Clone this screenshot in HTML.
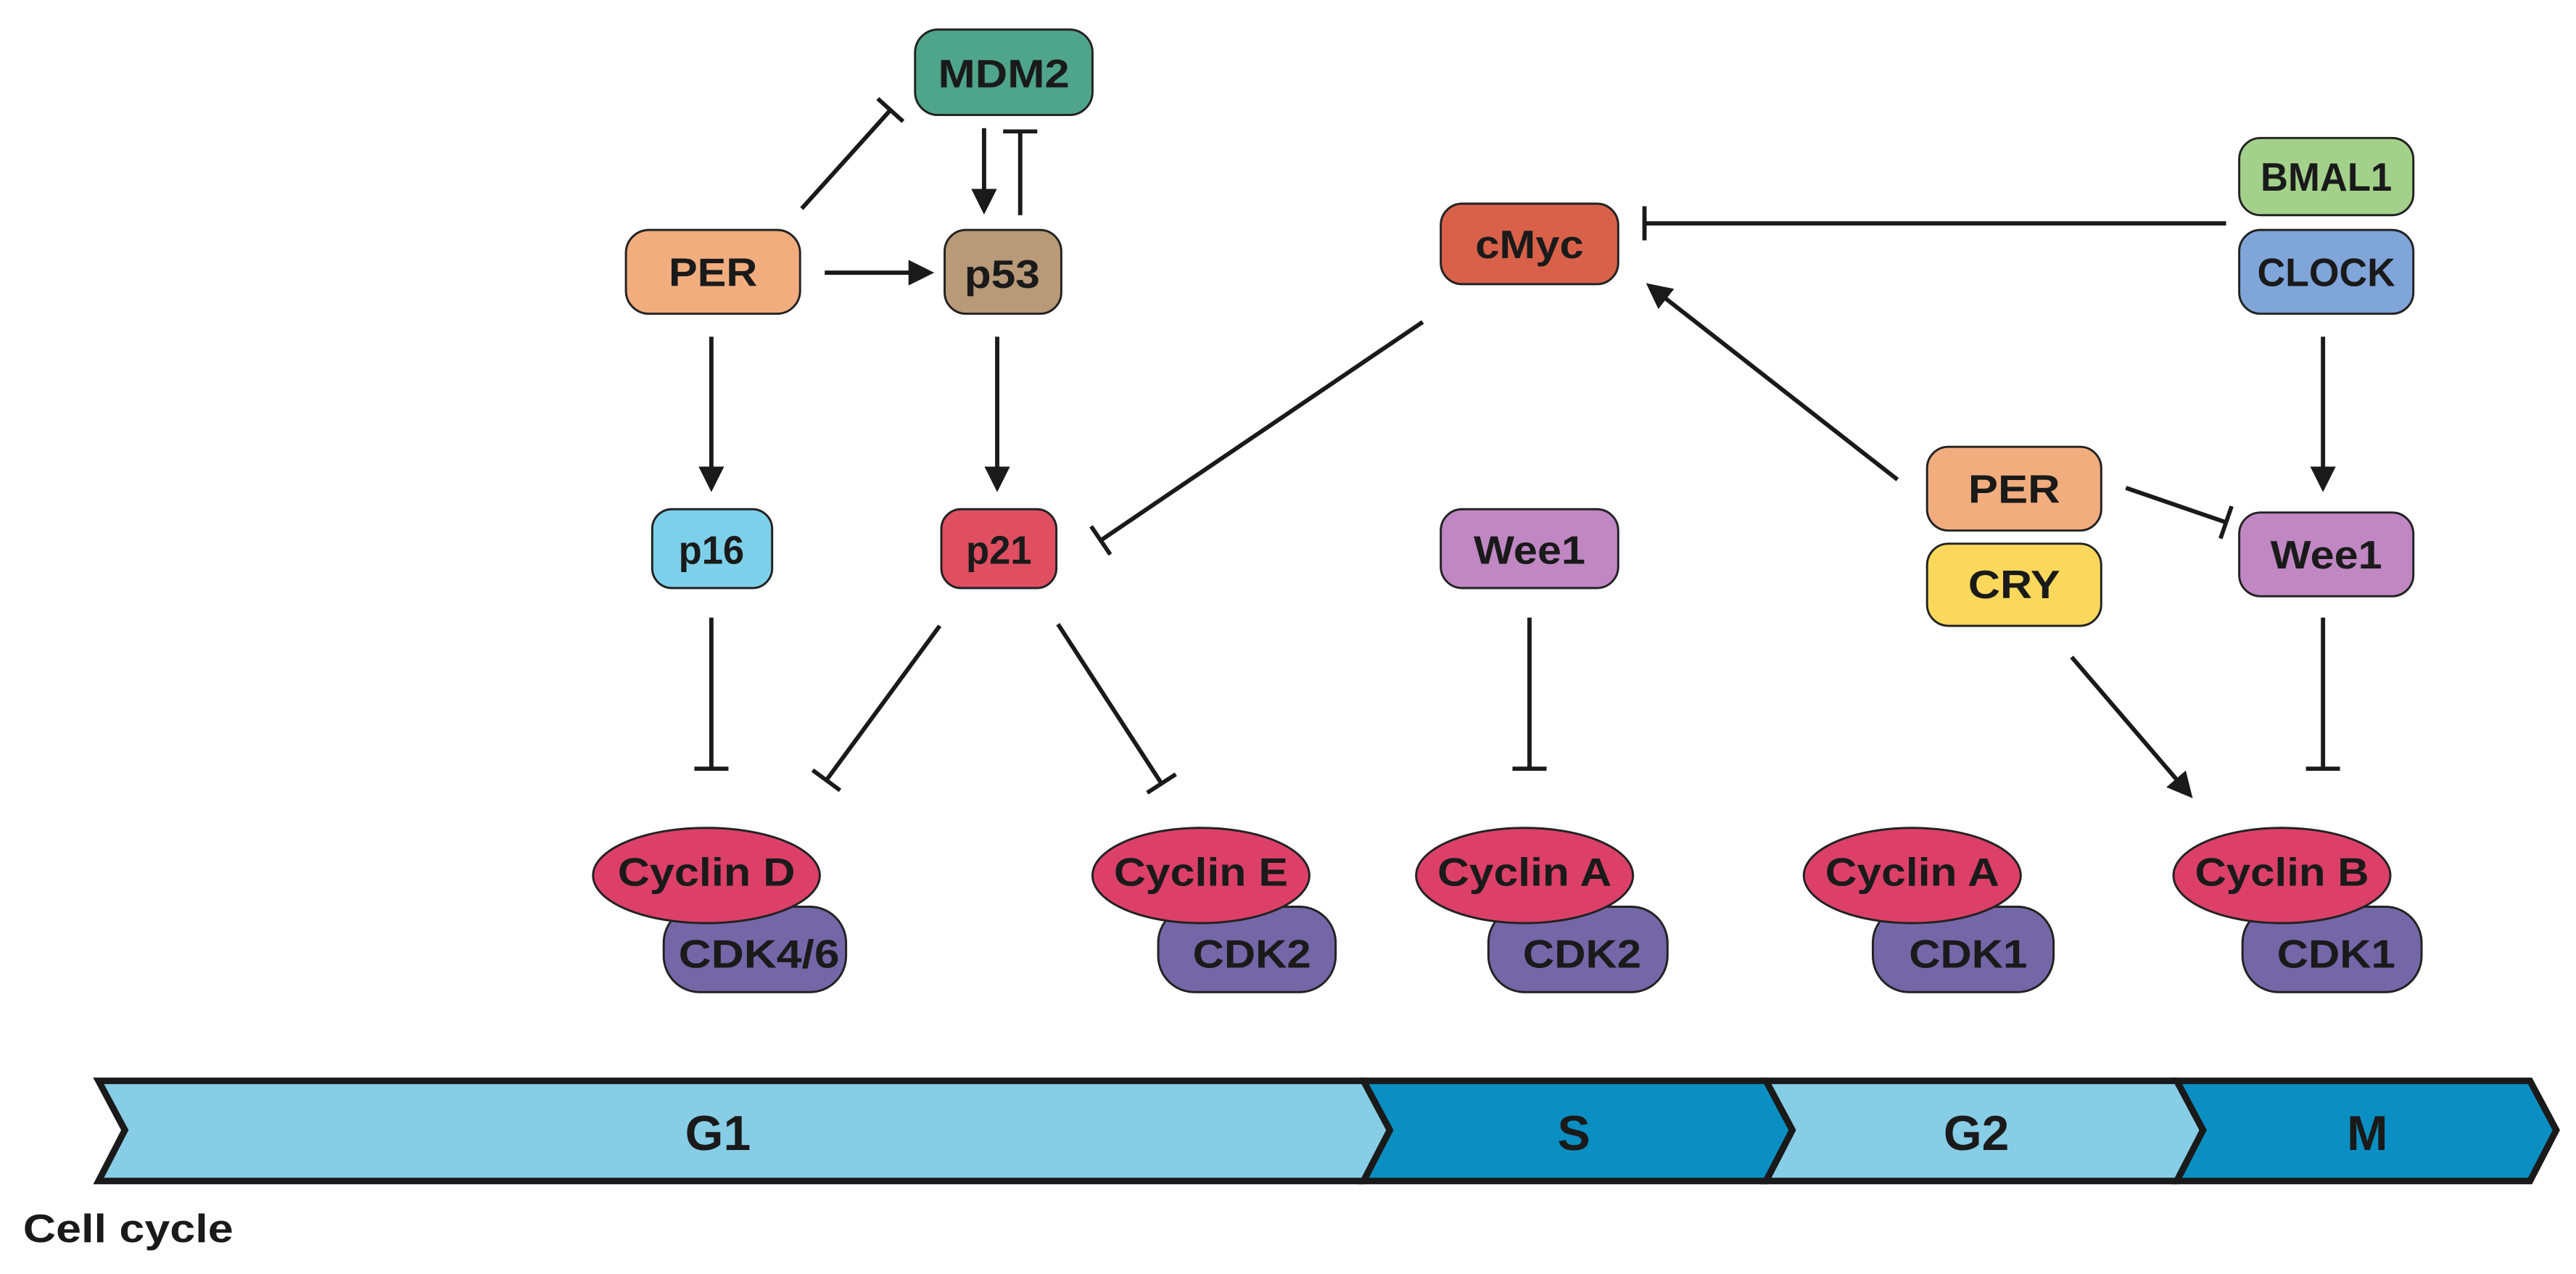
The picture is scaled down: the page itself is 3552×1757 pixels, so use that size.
<!DOCTYPE html>
<html><head><meta charset="utf-8"><style>
html,body{margin:0;padding:0;background:#fff;}
svg{display:block;}
text{font-family:"Liberation Sans",Arial,sans-serif;font-weight:bold;fill:#1a1a1a;text-anchor:middle;dominant-baseline:central;}
</style></head><body>
<svg width="3552" height="1757" viewBox="0 0 1568 775.6" preserveAspectRatio="none" xmlns="http://www.w3.org/2000/svg">
<defs>
<marker id="ar" markerWidth="6" markerHeight="6" refX="5" refY="3" orient="auto" markerUnits="strokeWidth">
<path d="M0,0 L6,3 L0,6 z" fill="#1a1a1a"/></marker>
<marker id="tb" markerWidth="1" markerHeight="8" refX="0.5" refY="4" orient="auto" markerUnits="strokeWidth">
<rect x="0" y="0" width="1" height="8" fill="#1a1a1a"/></marker>
</defs>
<g stroke="#1a1a1a" stroke-width="2.6" fill="none">
<line x1="488" y1="127" x2="542" y2="67" marker-end="url(#tb)"/>
<line x1="599" y1="78" x2="599" y2="128" marker-end="url(#ar)"/>
<line x1="621" y1="131" x2="621" y2="80" marker-end="url(#tb)"/>
<line x1="502" y1="166" x2="566" y2="166" marker-end="url(#ar)"/>
<line x1="433" y1="205" x2="433" y2="297" marker-end="url(#ar)"/>
<line x1="607" y1="205" x2="607" y2="297" marker-end="url(#ar)"/>
<line x1="433" y1="376" x2="433" y2="468" marker-end="url(#tb)"/>
<line x1="572" y1="381" x2="503" y2="475" marker-end="url(#tb)"/>
<line x1="644" y1="380" x2="707" y2="477" marker-end="url(#tb)"/>
<line x1="866" y1="196" x2="670" y2="329" marker-end="url(#tb)"/>
<line x1="1355" y1="136" x2="1001" y2="136" marker-end="url(#tb)"/>
<line x1="1414" y1="205" x2="1414" y2="297" marker-end="url(#ar)"/>
<line x1="1294" y1="297" x2="1355" y2="318" marker-end="url(#tb)"/>
<line x1="1155" y1="292" x2="1004" y2="174" marker-end="url(#ar)"/>
<line x1="1261" y1="400" x2="1333" y2="484" marker-end="url(#ar)"/>
<line x1="931" y1="376" x2="931" y2="468" marker-end="url(#tb)"/>
<line x1="1414" y1="376" x2="1414" y2="468" marker-end="url(#tb)"/>
</g>
<g stroke="#222" stroke-width="1.3">
<rect x="557" y="18" width="108" height="52" rx="14" fill="#4fa58a"/>
<rect x="381" y="140" width="106" height="51" rx="14" fill="#f2ad7e"/>
<rect x="575" y="140" width="71" height="51" rx="13" fill="#b89a78"/>
<rect x="397" y="310" width="73" height="48" rx="12" fill="#7dd0ea"/>
<rect x="573" y="310" width="70" height="48" rx="12" fill="#e04e62"/>
<rect x="877" y="124" width="108" height="49" rx="13" fill="#d9614a"/>
<rect x="1363" y="84" width="106" height="47" rx="13" fill="#a3d18b"/>
<rect x="1363" y="140" width="106" height="51" rx="13" fill="#7fa5d9"/>
<rect x="877" y="310" width="108" height="48" rx="13" fill="#c087c3"/>
<rect x="1363" y="312" width="106" height="51" rx="13" fill="#c087c3"/>
<rect x="1173" y="272" width="106" height="51" rx="13" fill="#f2ad7e"/>
<rect x="1173" y="331" width="106" height="50" rx="13" fill="#fbd85c"/>
<rect x="404" y="552" width="111" height="52" rx="22" fill="#7566a8"/>
<ellipse cx="430" cy="533" rx="69" ry="29" fill="#dc4068"/>
<rect x="705" y="552" width="108" height="52" rx="22" fill="#7566a8"/>
<ellipse cx="731" cy="533" rx="66" ry="29" fill="#dc4068"/>
<rect x="906" y="552" width="109" height="52" rx="22" fill="#7566a8"/>
<ellipse cx="928" cy="533" rx="66" ry="29" fill="#dc4068"/>
<rect x="1140" y="552" width="110" height="52" rx="22" fill="#7566a8"/>
<ellipse cx="1164" cy="533" rx="66" ry="29" fill="#dc4068"/>
<rect x="1365" y="552" width="109" height="52" rx="22" fill="#7566a8"/>
<ellipse cx="1389" cy="533" rx="66" ry="29" fill="#dc4068"/>
</g>
<g font-size="24">
<text x="611" y="45" textLength="80" lengthAdjust="spacingAndGlyphs">MDM2</text>
<text x="434" y="166" textLength="54" lengthAdjust="spacingAndGlyphs">PER</text>
<text x="610" y="167" textLength="46" lengthAdjust="spacingAndGlyphs">p53</text>
<text x="433" y="335" textLength="40" lengthAdjust="spacingAndGlyphs">p16</text>
<text x="608" y="335" textLength="40" lengthAdjust="spacingAndGlyphs">p21</text>
<text x="931" y="149" textLength="66" lengthAdjust="spacingAndGlyphs">cMyc</text>
<text x="1416" y="108" textLength="80" lengthAdjust="spacingAndGlyphs">BMAL1</text>
<text x="1416" y="166" textLength="84" lengthAdjust="spacingAndGlyphs">CLOCK</text>
<text x="931" y="335" textLength="68" lengthAdjust="spacingAndGlyphs">Wee1</text>
<text x="1416" y="338" textLength="68" lengthAdjust="spacingAndGlyphs">Wee1</text>
<text x="1226" y="298" textLength="56" lengthAdjust="spacingAndGlyphs">PER</text>
<text x="1226" y="356" textLength="56" lengthAdjust="spacingAndGlyphs">CRY</text>
<text x="430" y="531" textLength="108" lengthAdjust="spacingAndGlyphs">Cyclin D</text>
<text x="462" y="581" textLength="98" lengthAdjust="spacingAndGlyphs">CDK4/6</text>
<text x="731" y="531" textLength="106" lengthAdjust="spacingAndGlyphs">Cyclin E</text>
<text x="762" y="581" textLength="72" lengthAdjust="spacingAndGlyphs">CDK2</text>
<text x="928" y="531" textLength="106" lengthAdjust="spacingAndGlyphs">Cyclin A</text>
<text x="963" y="581" textLength="72" lengthAdjust="spacingAndGlyphs">CDK2</text>
<text x="1164" y="531" textLength="106" lengthAdjust="spacingAndGlyphs">Cyclin A</text>
<text x="1198" y="581" textLength="72" lengthAdjust="spacingAndGlyphs">CDK1</text>
<text x="1389" y="531" textLength="106" lengthAdjust="spacingAndGlyphs">Cyclin B</text>
<text x="1422" y="581" textLength="72" lengthAdjust="spacingAndGlyphs">CDK1</text>
</g>
<g stroke="#1a1a1a" stroke-width="4" stroke-linejoin="miter">
<polygon points="60,658 830,658 846,688 830,719 60,719 76,688" fill="#87cde6"/>
<polygon points="830,658 1075,658 1091,688 1075,719 830,719 846,688" fill="#0b8fc2"/>
<polygon points="1075,658 1325,658 1341,688 1325,719 1075,719 1091,688" fill="#87cde6"/>
<polygon points="1325,658 1540,658 1556,688 1540,719 1325,719 1341,688" fill="#0b8fc2"/>
</g>
<g font-size="30">
<text x="437" y="690" textLength="40" lengthAdjust="spacingAndGlyphs">G1</text>
<text x="958" y="690">S</text>
<text x="1203" y="690" textLength="40" lengthAdjust="spacingAndGlyphs">G2</text>
<text x="1441" y="690">M</text>
</g>
<text x="14" y="748" font-size="24" textLength="128" lengthAdjust="spacingAndGlyphs" style="text-anchor:start">Cell cycle</text>
</svg>
</body></html>
